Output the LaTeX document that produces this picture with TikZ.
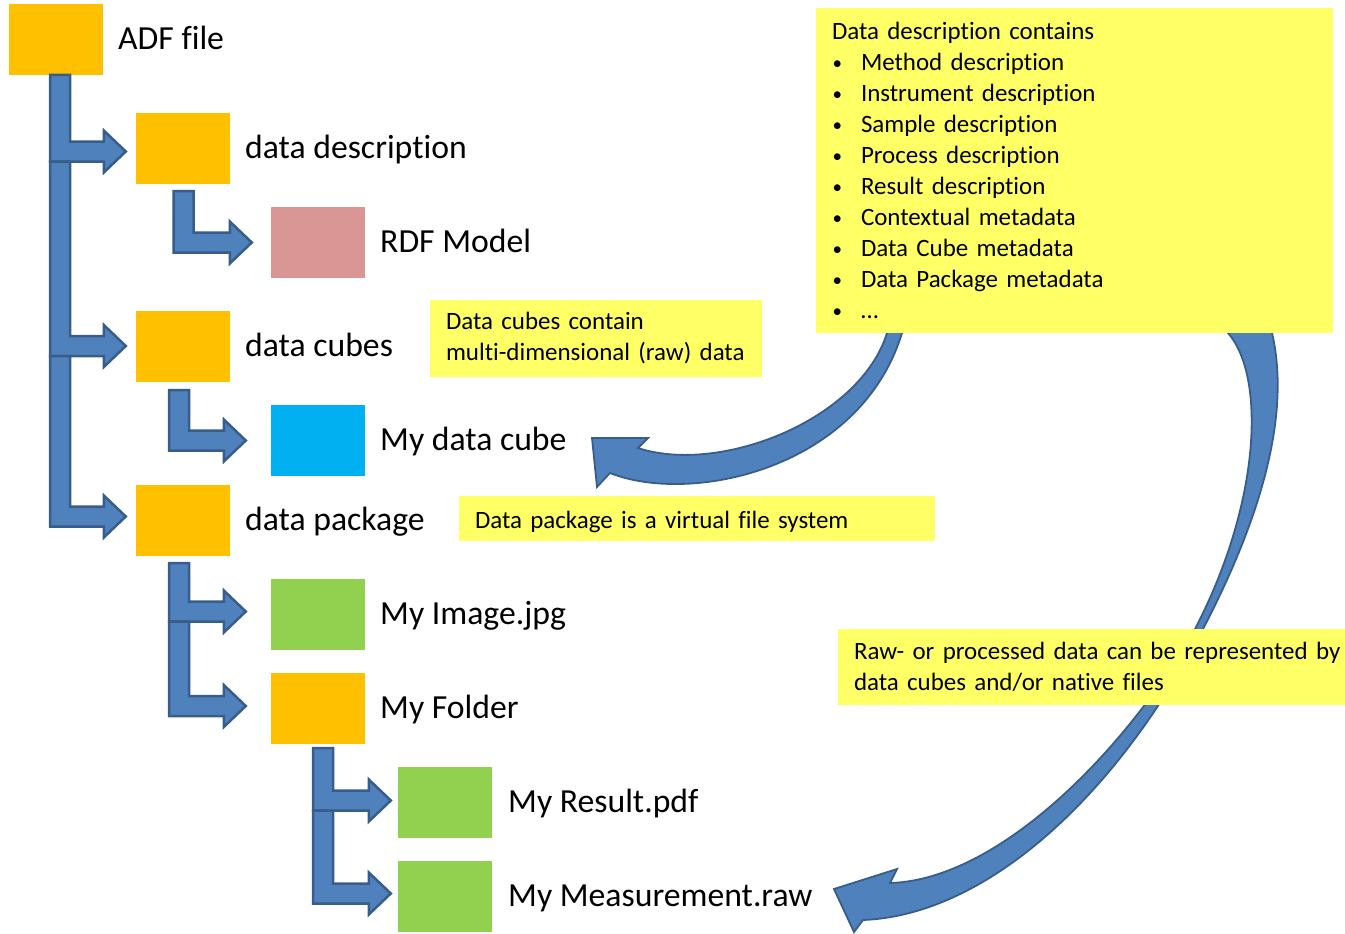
\documentclass[tikz,border=0pt]{standalone}
\usepackage{fontspec}
\setmainfont{Carlito}[Ligatures=NoCommon]
\usetikzlibrary{calc}
\definecolor{boxorange}{RGB}{255,192,0}
\definecolor{boxpink}{RGB}{217,150,148}
\definecolor{boxcyan}{RGB}{0,176,240}
\definecolor{boxgreen}{RGB}{146,208,80}
\definecolor{noteyellow}{RGB}{255,255,102}
\definecolor{arrowfill}{RGB}{79,129,189}
\definecolor{arrowline}{RGB}{56,93,138}
\newcommand\oneline[1]{\mbox{#1}}
\newcommand\bul[1]{\mbox{\makebox[29pt][l]{\hspace{0.5pt}\raisebox{1.5pt}{\fontsize{19}{19}\selectfont\textbullet}}#1}}
% #1 start coordinate (top centre of the bar), #2 target node, #3 gap before target, #4 vertical offset (down positive)
\newcommand\bentarrow[4]{%
  \draw[bentarr] let \p1=(#1), \p2=($(#2.west)+(-#3,#4)$) in
    ({\x1-10pt},\y1) -- ({\x1+10pt},\y1) -- ({\x1+10pt},{\y2+10pt}) --
    ({\x2-22pt},{\y2+10pt}) -- ({\x2-22pt},{\y2+21pt}) -- (\x2,\y2) --
    ({\x2-22pt},{\y2-21pt}) -- ({\x2-22pt},{\y2-10pt}) --
    ({\x1-10pt},{\y2-10pt}) -- cycle;}
\begin{document}
\begin{tikzpicture}[x=1pt,y=-1pt,
  filebox/.style={rectangle, minimum width=94pt, minimum height=71pt, inner sep=0pt, draw=none},
  lbl/.style={anchor=base west, inner sep=0pt, font=\fontsize{33.7}{40}\selectfont},
  note/.style={fill=noteyellow, inner xsep=16pt, inner ysep=0pt, align=left, font=\fontsize{24.95}{31}\selectfont},
  bentarr/.style={fill=arrowfill, draw=arrowline, line width=2.5pt, line join=miter},
  curvarr/.style={fill=arrowfill, draw=arrowline, line width=1.8pt, line join=miter}]
\useasboundingbox (0,0) rectangle (1345,934);

% curved arrows (drawn below the notes)
\draw[curvarr] (889,325) -- (887,333)
  .. controls (860,420) and (720,475) .. (638,448)
  -- (648,438) -- (592,438) -- (597,487) -- (610,473)
  .. controls (690,505) and (860,470) .. (902,333)
  -- (904,325) -- cycle;
\draw[curvarr] (1228,325) -- (1228,333)
  .. controls (1265,375) and (1262,500) .. (1195,629)
  .. controls (1128,747) and (1000,880) .. (890,883)
  -- (897,869) -- (834,889) -- (854,932) -- (863,920)
  .. controls (990,915) and (1120,790) .. (1203,629)
  .. controls (1265,510) and (1290,410) .. (1272,333)
  -- (1272,325) -- cycle;

% file boxes
\node[filebox, fill=boxorange] (adf) at (56,39.5) {};
\node[filebox, fill=boxorange] (ddesc) at (183,148.5) {};
\node[filebox, fill=boxpink] (rdf) at (318,242.5) {};
\node[filebox, fill=boxorange] (dcubes) at (183,346) {};
\node[filebox, fill=boxcyan] (mycube) at (318,440.5) {};
\node[filebox, fill=boxorange] (dpack) at (183,520.5) {};
\node[filebox, fill=boxgreen] (myimg) at (318,614.5) {};
\node[filebox, fill=boxorange] (myfolder) at (318,708) {};
\node[filebox, fill=boxgreen] (myres) at (445,802.5) {};
\node[filebox, fill=boxgreen] (mymeas) at (445,896.5) {};

% labels
\node[lbl] (adfl) at (118,49.5) {ADF file};
\node[lbl] (ddescl) at (245,158.5) {data description};
\node[lbl] (rdfl) at (380,252.5) {RDF Model};
\node[lbl] (dcubesl) at (245,356) {data cubes};
\node[lbl] (mycubel) at (380,450.5) {My data cube};
\node[lbl] (dpackl) at (245,530.5) {data package};
\node[lbl] (myimgl) at (380,624.5) {My Image.jpg};
\node[lbl] (myfolderl) at (380,718) {My Folder};
\node[lbl] (myresl) at (508,812.5) {My Result.pdf};
\node[lbl] (mymeasl) at (508,906.5) {My Measurement.raw};

% tree arrows
\coordinate (m1) at (60,75);
\bentarrow{m1}{ddesc}{10}{3}
\coordinate (m2) at ($(m1 |- ddesc.west)+(0,13)$);
\bentarrow{m2}{dcubes}{10}{0}
\coordinate (m3) at ($(m1 |- dcubes.west)+(0,10)$);
\bentarrow{m3}{dpack}{10}{-4}
\coordinate (r1) at (183.5,191);
\bentarrow{r1}{rdf}{19}{0}
\coordinate (c1) at (179,390);
\bentarrow{c1}{mycube}{25}{0}
\coordinate (p1) at (179,563);
\bentarrow{p1}{myimg}{25}{-3}
\coordinate (p2) at ($(p1 |- myimg.west)+(0,7)$);
\bentarrow{p2}{myfolder}{25}{-2}
\coordinate (f1) at (323,748);
\bentarrow{f1}{myres}{7}{-2}
\coordinate (f2) at ($(f1 |- myres.west)+(0,8)$);
\bentarrow{f2}{mymeas}{7}{-3}

% notes
\node[note, text width=485pt, minimum height=325pt] (ddnote) at (1074.5,170.5) {\oneline{Data description contains}\\
\bul{Method description}\\
\bul{Instrument description}\\
\bul{Sample description}\\
\bul{Process description}\\
\bul{Result description}\\
\bul{Contextual metadata}\\
\bul{Data Cube metadata}\\
\bul{Data Package metadata}\\
\bul{…}};
\node[note, text width=300pt, minimum height=77pt] (cubenote) at (596,338.5) {\oneline{Data cubes contain}\\\oneline{multi-dimensional (raw) data}};
\node[note, text width=444pt, minimum height=45pt, text height=19pt, text depth=0pt] (pkgnote) at (697,518.5) {\oneline{Data package is a virtual file system}};
\node[note, text width=475pt, minimum height=76pt] (rawnote) at (1091.5,667) {\oneline{Raw- or processed data can be represented by}\\\oneline{data cubes and/or native files}};
\end{tikzpicture}
\end{document}
